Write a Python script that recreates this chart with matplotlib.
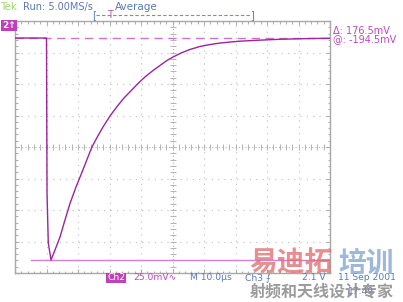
import matplotlib
matplotlib.use("Agg")
import matplotlib.pyplot as plt

# waveform: time in us, level in mV (10 us/div, 25 mV/div)
t_us = [0.0, 9.9, 10.0, 10.16, 10.57, 11.43, 12.70, 14.29, 15.87, 17.46, 19.37,
        21.17, 22.54, 24.35, 26.03, 27.94, 30.16, 32.38, 34.60, 37.05, 39.37,
        41.59, 43.81, 46.03, 48.25, 50.16, 52.70, 55.56, 58.73, 61.90, 65.08,
        68.25, 71.43, 77.78, 84.13, 92.06, 100.0]
v_mv = [86.5, 86.5, 86.5, -36.5, -76.2, -89.7, -81.7, -71.4, -57.9, -44.8, -31.7,
        -20.6, -11.9, -0.4, 7.5, 15.9, 24.6, 32.1, 38.9, 45.2, 51.2,
        56.3, 60.7, 64.7, 68.7, 71.4, 74.6, 77.4, 79.8, 81.3, 82.5,
        83.3, 84.0, 84.8, 85.5, 86.0, 86.3]

cursor_top = 86.5
cursor_bot = -90.0
cursor_bot_start = 5.1

W, H = 403, 302
fig = plt.figure(figsize=(W / 100, H / 100), dpi=100)
fig.patch.set_facecolor("white")

def fx(x):
    return x / W

def fy(y):
    return 1 - y / H

ax = fig.add_axes([fx(15), fy(273), 315 / W, 252 / H])
ax.set_xlim(0, 100)
ax.set_ylim(-100, 100)
for s in ax.spines.values():
    s.set_color("#a8a8a8")
    s.set_linewidth(1.0)

ax.set_xticks(range(0, 101, 10))
ax.set_yticks(range(-100, 101, 25))
ax.set_xticks([i * 2 for i in range(51)], minor=True)
ax.set_yticks([i * 5 - 100 for i in range(41)], minor=True)
ax.tick_params(which="both", direction="in", color="#b0b0b0", labelbottom=False,
               labelleft=False, top=True, right=True, width=0.8)
ax.tick_params(which="major", length=3)
ax.tick_params(which="minor", length=1.8)

gcol = "#bdbdbd"
for t in range(10, 100, 10):
    if t != 50:
        ax.axvline(t, color=gcol, lw=0.8, ls=(0, (1, 4.7)), zorder=1)
for v in (-75, -50, -25, 25, 50, 75):
    ax.axhline(v, color=gcol, lw=0.8, ls=(0, (1, 4.7)), zorder=1)
# centre cross with small ticks
ax.axvline(50, color="#b4b4b4", lw=0.8, ls=(0, (1, 2)), zorder=1)
ax.axhline(0, color="#b4b4b4", lw=0.8, ls=(0, (1, 2)), zorder=1)
ax.plot([i * 2 for i in range(51)], [0] * 51, ls="none", marker="|", ms=4,
        mew=0.7, color="#b4b4b4", zorder=1)
ax.plot([50] * 41, [i * 5 - 100 for i in range(41)], ls="none", marker="_", ms=4,
        mew=0.7, color="#b4b4b4", zorder=1)

# cursors
ax.axhline(cursor_top, color="#d070d0", lw=1.0, ls=(0, (6, 4)), zorder=2)
ax.plot([cursor_bot_start, 100], [cursor_bot, cursor_bot], color="#d080d0", lw=1.0, zorder=2)

# trace
ax.plot(t_us, v_mv, color="#9c249c", lw=1.0, zorder=3)

fam = ["DejaVu Sans", "Noto Sans CJK SC"]
blue = "#5a78b8"
mag = "#c048c0"

# top status line
fig.text(fx(0), fy(7), "Tek", color="#9ad87a", fontsize=7.5, va="center", family=fam)
fig.text(fx(23), fy(7), "Run: 5.00MS/s", color=blue, fontsize=7, va="center", family=fam)
fig.text(fx(115), fy(7), "Average", color=blue, fontsize=7.5, va="center", family=fam)
fig.lines.append(plt.Line2D([fx(96), fx(251)], [fy(15), fy(15)], transform=fig.transFigure,
                            color="#8a7fc8", lw=0.8, ls=(0, (3, 2))))
fig.text(fx(94), fy(15), "[", color=blue, fontsize=7, ha="center", va="center", family=fam)
fig.text(fx(252), fy(15), "]", color=blue, fontsize=7, ha="center", va="center", family=fam)
fig.text(fx(110), fy(15), "T", color=mag, fontsize=7, ha="center", va="center", family=fam)

# channel marker
fig.text(fx(2), fy(25.5), "2↑", color="white", fontsize=6.5, va="center", weight="bold",
         family=fam, bbox=dict(boxstyle="square,pad=0.1", fc="#c040b8", ec="none"))

# cursor readout
fig.text(fx(333), fy(30.5), "Δ: 176.5mV", color=mag, fontsize=7, va="center", family=fam)
fig.text(fx(333), fy(39.5), "@: -194.5mV", color=mag, fontsize=7, va="center", family=fam)

# bottom line
fs = 6.6
fig.text(fx(107), fy(278), "Ch2", color="white", fontsize=fs, va="center", family=fam,
         bbox=dict(boxstyle="square,pad=0.1", fc="#c040b8", ec="none"))
fig.text(fx(133), fy(278), "25.0mV∿", color=mag, fontsize=fs, va="center", family=fam)
fig.text(fx(190), fy(278), "M 10.0µs", color=blue, fontsize=fs, va="center", family=fam)
fig.text(fx(245), fy(278), "Ch3 ⨍", color=blue, fontsize=fs, va="center", family=fam)
fig.text(fx(302), fy(278), "2.1 V", color=blue, fontsize=fs, va="center", family=fam)
fig.text(fx(338), fy(278), "11 Sep 2001", color=blue, fontsize=fs, va="center", family=fam)
fig.text(fx(348), fy(292), "17:49", color=blue, fontsize=fs, va="center", family=fam)

# watermark
cjk = ["Noto Sans CJK SC", "DejaVu Sans"]
fig.text(fx(249), fy(264), "易迪拓", color="#e06a6a", alpha=0.75, fontsize=20,
         weight="bold", va="center", family=cjk)
fig.text(fx(338), fy(264), "培训", color="#7f9fd0", alpha=0.75, fontsize=20,
         weight="bold", va="center", family=cjk)
fig.text(fx(250), fy(291), "射频和天线设计专家", color="#8a8a8a", alpha=0.85, fontsize=11.5,
         weight="bold", va="center", family=cjk)

fig.savefig("out.png", dpi=100)
